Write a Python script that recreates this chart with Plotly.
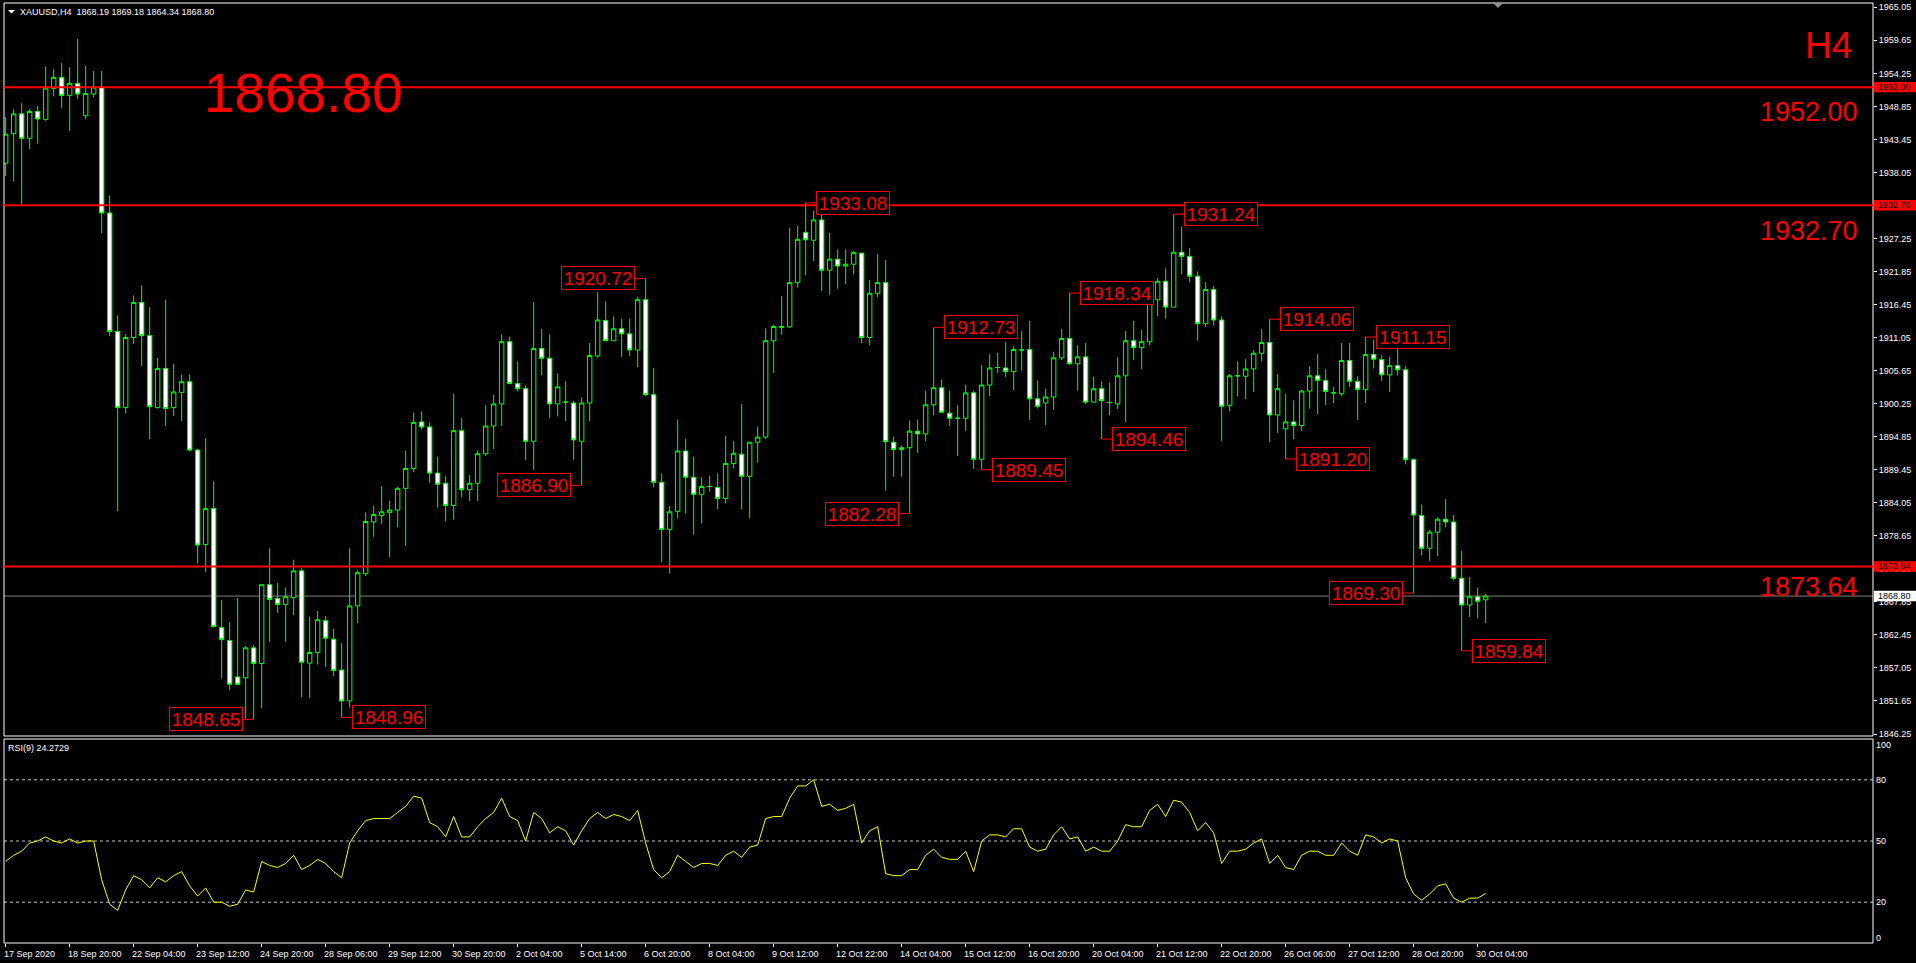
import plotly.graph_objects as go

# ---------------- data ----------------
bar_open = [
    1939.56, 1944.39, 1947.63, 1943.63, 1948.01, 1946.73, 1951.78, 1953.59, 1950.65, 1952.61,
    1947.33, 1950.87, 1952.00, 1931.42, 1912.05, 1899.61, 1911.07, 1916.80, 1911.37, 1899.61,
    1906.01, 1899.61, 1902.10, 1903.83, 1892.67, 1877.22, 1883.10, 1863.64, 1861.54, 1855.58,
    1855.43, 1860.33, 1857.77, 1870.66, 1868.39, 1867.41, 1868.54, 1872.92, 1857.84, 1859.57,
    1864.77, 1861.76, 1856.71, 1851.66, 1867.19, 1872.47, 1880.91, 1881.97, 1882.49, 1882.87,
    1886.41, 1889.66, 1897.27, 1896.44, 1888.90, 1887.24, 1883.62, 1895.84, 1886.19, 1887.24,
    1892.07, 1896.59, 1900.21, 1910.39, 1903.53, 1902.70, 1894.10, 1909.26, 1907.67, 1900.21,
    1900.51, 1900.36, 1894.10, 1900.36, 1908.05, 1913.85, 1910.54, 1912.50, 1911.67, 1909.03,
    1917.25, 1901.72, 1887.39, 1879.70, 1882.65, 1892.52, 1888.22, 1885.43, 1886.72, 1886.56,
    1884.76, 1890.48, 1891.99, 1888.37, 1893.95, 1894.78, 1910.54, 1912.72, 1912.80, 1920.04,
    1928.25, 1926.97, 1930.29, 1922.07, 1923.88, 1922.75, 1923.05, 1924.86, 1911.07, 1918.30,
    1920.04, 1893.95, 1892.75, 1893.05, 1895.76, 1895.31, 1900.06, 1902.85, 1898.70, 1897.87,
    1897.87, 1902.02, 1891.16, 1903.30, 1906.17, 1906.09, 1905.49, 1909.03, 1909.11, 1901.04,
    1900.36, 1901.34, 1907.75, 1910.91, 1906.77, 1907.90, 1900.51, 1902.70, 1900.44, 1900.21,
    1904.81, 1910.54, 1909.41, 1910.39, 1917.25, 1920.26, 1916.04, 1925.01, 1924.33, 1921.09,
    1913.33, 1918.91, 1913.93, 1899.98, 1904.81, 1904.73, 1905.94, 1908.50, 1910.24, 1898.40,
    1896.14, 1897.27, 1896.67, 1902.32, 1904.81, 1904.06, 1902.02, 1901.87, 1907.30, 1903.90,
    1902.55, 1908.27, 1907.45, 1904.96, 1906.47, 1905.79, 1891.09, 1881.97, 1876.61, 1879.25,
    1881.36, 1880.91, 1871.71, 1867.34, 1868.69, 1868.19,
]
bar_high = [
    1947.10, 1948.38, 1949.36, 1948.38, 1948.91, 1955.39, 1954.94, 1955.92, 1955.24, 1959.92,
    1955.47, 1954.64, 1954.64, 1934.29, 1914.68, 1911.67, 1917.93, 1919.58, 1916.04, 1907.75,
    1917.25, 1906.77, 1905.03, 1905.03, 1892.90, 1894.63, 1887.54, 1868.17, 1864.55, 1868.47,
    1860.63, 1860.78, 1870.70, 1876.61, 1870.96, 1870.20, 1874.73, 1873.37, 1865.38, 1866.36,
    1865.53, 1863.42, 1861.16, 1876.61, 1873.00, 1882.49, 1883.55, 1886.79, 1884.38, 1886.64,
    1892.60, 1898.78, 1899.00, 1897.19, 1891.62, 1888.45, 1901.87, 1897.95, 1888.60, 1892.60,
    1899.98, 1901.72, 1911.59, 1911.22, 1907.15, 1903.23, 1916.87, 1912.42, 1911.59, 1905.19,
    1903.90, 1900.74, 1901.27, 1910.16, 1918.46, 1916.94, 1914.53, 1914.16, 1914.16, 1917.70,
    1920.72, 1906.09, 1888.83, 1883.55, 1897.65, 1894.55, 1891.62, 1888.22, 1888.45, 1888.83,
    1895.01, 1894.10, 1900.21, 1894.00, 1896.51, 1912.57, 1913.18, 1917.85, 1929.01, 1929.31,
    1933.08, 1931.80, 1931.50, 1928.18, 1925.46, 1925.46, 1925.24, 1924.94, 1920.49, 1924.71,
    1923.73, 1894.86, 1893.42, 1897.50, 1897.65, 1902.40, 1912.73, 1904.21, 1902.40, 1899.98,
    1903.38, 1902.40, 1906.54, 1908.35, 1908.58, 1910.31, 1909.63, 1912.12, 1913.78, 1904.06,
    1902.70, 1908.73, 1912.42, 1918.34, 1909.78, 1910.16, 1904.66, 1903.90, 1903.75, 1907.82,
    1912.12, 1913.78, 1912.27, 1919.21, 1920.79, 1922.37, 1931.24, 1929.23, 1925.69, 1921.85,
    1920.11, 1919.51, 1914.53, 1905.11, 1907.15, 1907.52, 1909.03, 1912.42, 1914.06, 1905.11,
    1901.87, 1900.81, 1902.47, 1906.39, 1908.35, 1905.86, 1903.00, 1910.16, 1910.16, 1904.73,
    1911.15, 1910.69, 1908.13, 1907.90, 1910.46, 1906.39, 1891.31, 1883.77, 1879.63, 1881.66,
    1884.68, 1882.04, 1876.24, 1871.87, 1870.20, 1869.18,
]
bar_low = [
    1937.45, 1936.55, 1932.78, 1941.82, 1942.73, 1946.50, 1950.49, 1948.61, 1944.84, 1950.12,
    1946.80, 1950.34, 1928.10, 1911.29, 1882.64, 1898.63, 1910.01, 1906.39, 1894.48, 1899.46,
    1896.59, 1898.25, 1897.35, 1892.45, 1874.12, 1872.69, 1863.80, 1855.35, 1853.39, 1854.22,
    1848.80, 1848.65, 1850.45, 1861.31, 1866.06, 1861.31, 1865.68, 1852.26, 1852.11, 1857.61,
    1857.24, 1855.73, 1848.96, 1850.60, 1864.40, 1872.09, 1878.50, 1880.61, 1875.11, 1880.01,
    1876.99, 1889.05, 1895.99, 1887.32, 1883.25, 1880.99, 1881.29, 1884.91, 1884.30, 1884.30,
    1891.69, 1892.82, 1896.59, 1903.45, 1902.25, 1891.01, 1889.43, 1904.88, 1897.87, 1898.17,
    1897.35, 1891.09, 1886.90, 1897.35, 1907.75, 1910.50, 1910.50, 1907.90, 1908.05, 1906.24,
    1901.49, 1886.56, 1874.35, 1872.47, 1881.51, 1882.27, 1878.87, 1880.68, 1885.89, 1882.95,
    1883.93, 1889.66, 1882.95, 1881.51, 1890.63, 1894.48, 1905.26, 1911.52, 1912.65, 1919.21,
    1921.24, 1923.58, 1918.68, 1918.08, 1919.06, 1919.81, 1921.39, 1910.16, 1909.78, 1917.62,
    1886.04, 1888.30, 1888.30, 1882.28, 1892.22, 1894.10, 1898.40, 1898.70, 1896.59, 1891.69,
    1895.84, 1889.60, 1889.45, 1901.49, 1905.26, 1904.66, 1902.47, 1905.64, 1897.57, 1899.46,
    1896.74, 1899.23, 1907.37, 1906.62, 1902.40, 1900.21, 1900.45, 1894.46, 1898.40, 1899.38,
    1897.27, 1907.37, 1905.94, 1909.78, 1914.53, 1914.16, 1916.00, 1921.39, 1920.11, 1910.54,
    1912.80, 1913.03, 1894.18, 1899.00, 1901.42, 1900.96, 1902.17, 1907.15, 1893.95, 1895.46,
    1891.20, 1894.48, 1895.84, 1899.46, 1898.55, 1899.98, 1900.36, 1901.49, 1903.00, 1897.57,
    1900.36, 1906.01, 1903.98, 1902.17, 1904.88, 1890.33, 1869.30, 1875.48, 1874.58, 1875.33,
    1880.01, 1871.34, 1859.84, 1865.38, 1865.15, 1864.34,
]
bar_close = [
    1944.31, 1947.63, 1943.63, 1948.01, 1946.80, 1951.85, 1953.59, 1950.65, 1952.61, 1950.87,
    1950.95, 1952.00, 1931.42, 1912.05, 1899.61, 1911.07, 1916.80, 1911.37, 1899.76, 1906.01,
    1899.46, 1902.17, 1903.83, 1892.67, 1877.14, 1883.10, 1863.80, 1861.69, 1854.37, 1854.37,
    1860.33, 1857.77, 1870.66, 1868.24, 1867.41, 1868.69, 1872.92, 1857.99, 1859.57, 1864.93,
    1861.91, 1856.63, 1851.66, 1867.19, 1872.62, 1880.99, 1882.12, 1882.57, 1882.87, 1886.41,
    1889.66, 1897.19, 1896.44, 1888.90, 1887.09, 1883.62, 1895.84, 1886.19, 1887.24, 1892.07,
    1896.59, 1900.21, 1910.39, 1903.53, 1902.70, 1894.10, 1909.26, 1907.67, 1900.21, 1903.00,
    1900.51, 1894.33, 1900.36, 1908.13, 1913.93, 1910.54, 1912.50, 1911.67, 1909.03, 1917.25,
    1901.72, 1887.39, 1879.70, 1882.57, 1892.52, 1888.22, 1885.43, 1886.72, 1886.72, 1884.76,
    1890.48, 1892.14, 1888.37, 1893.95, 1894.78, 1910.54, 1912.87, 1912.87, 1920.04, 1927.12,
    1927.05, 1930.29, 1922.07, 1923.88, 1922.75, 1923.05, 1924.94, 1911.07, 1918.30, 1920.04,
    1894.03, 1892.75, 1893.05, 1895.76, 1895.31, 1900.06, 1902.85, 1898.85, 1897.87, 1897.87,
    1902.02, 1891.16, 1903.30, 1906.09, 1906.17, 1905.49, 1909.11, 1909.03, 1901.04, 1899.83,
    1901.34, 1907.75, 1910.91, 1906.77, 1907.90, 1900.51, 1902.70, 1900.74, 1900.44, 1904.81,
    1910.54, 1909.41, 1910.39, 1917.25, 1920.26, 1916.04, 1925.01, 1924.33, 1921.09, 1913.33,
    1918.91, 1913.93, 1899.83, 1904.81, 1904.81, 1905.94, 1908.50, 1910.24, 1898.40, 1902.70,
    1897.27, 1896.67, 1902.32, 1904.81, 1904.06, 1902.25, 1902.02, 1907.30, 1903.90, 1902.55,
    1908.27, 1907.52, 1904.96, 1906.47, 1905.79, 1891.09, 1882.04, 1876.61, 1879.25, 1881.36,
    1880.91, 1871.71, 1867.34, 1868.69, 1867.94, 1868.80,
]
rsi_values = [
    40, 43, 45, 49, 50, 52, 50, 49, 51, 49,
    50, 50, 31, 19, 16, 26, 33, 31, 27, 32,
    30, 33, 35, 28, 23, 27, 20, 20, 18, 19,
    26, 25, 40, 38, 37, 39, 43, 36, 38, 41,
    39, 35, 32, 49, 55, 60, 61, 61, 61, 64,
    67, 72, 71, 59, 57, 52, 62, 52, 52, 57,
    61, 64, 71, 62, 60, 50, 64, 61, 54, 57,
    55, 48, 55, 61, 64, 61, 63, 62, 60, 65,
    49, 36, 32, 35, 43, 40, 37, 39, 39, 38,
    43, 45, 42, 47, 48, 61, 62, 62, 71, 77,
    77, 80, 67, 68, 65, 66, 68, 49, 55, 57,
    34, 33, 33, 36, 36, 43, 46, 42, 41, 41,
    45, 35, 50, 53, 53, 52, 56, 56, 47, 45,
    46, 53, 57, 51, 52, 45, 47, 45, 45, 50,
    58, 57, 57, 65, 68, 62, 70, 69, 64, 55,
    59, 54, 39, 45, 45, 46, 49, 51, 39, 43,
    37, 36, 43, 45, 45, 43, 43, 49, 45, 43,
    53, 52, 49, 51, 50, 32, 24, 21, 24, 28,
    29, 22, 20, 22, 22, 24.27,
]
tick_labels = [
    "17 Sep 2020", "18 Sep 20:00", "22 Sep 04:00", "23 Sep 12:00", "24 Sep 20:00",
    "28 Sep 06:00", "29 Sep 12:00", "30 Sep 20:00", "2 Oct 04:00", "5 Oct 14:00",
    "6 Oct 20:00", "8 Oct 04:00", "9 Oct 12:00", "12 Oct 22:00", "14 Oct 04:00",
    "15 Oct 12:00", "16 Oct 20:00", "20 Oct 04:00", "21 Oct 12:00", "22 Oct 20:00",
    "26 Oct 06:00", "27 Oct 12:00", "28 Oct 20:00", "30 Oct 04:00",
]
bars_per_tick = 8
level_prices = [1952.00, 1932.70, 1873.64]
current_price = 1868.80
header_symbol = "XAUUSD,H4"
header_ohlc = [1868.19, 1869.18, 1864.34, 1868.80]
rsi_period = 9
rsi_last = 24.2729
swing_bars = [31, 42, 72, 80, 100, 113, 116, 122, 133, 137, 146, 158, 160, 170, 176, 182]
swing_prices = [1848.65, 1848.96, 1886.90, 1920.72, 1933.08, 1882.28, 1912.73, 1889.45,
                1918.34, 1894.46, 1931.24, 1914.06, 1891.20, 1911.15, 1869.30, 1859.84]
swing_sides = ["left", "right", "left", "left", "right", "left", "right", "right",
               "right", "right", "right", "right", "right", "right", "left", "right"]
rsi_levels = [20, 50, 80]
rsi_axis_labels = [100, 80, 50, 20, 0]
price_tick0 = 1846.25
price_tick_step = 5.40

# ---------------- layout constants (pixels) ----------------
FIG_W, FIG_H = 1916, 963
PL, PR, PT, PB = 4, 1873, 3, 943
MAIN_BOT, RSI_TOP = 736, 739
BAR0_PX, BAR_PX = 5.67, 8.0
PRICE_TOP = 1965.753
PX_PER_UNIT = 6.117
FONT = "Liberation Sans, Arial, sans-serif"
RED = "#ff0000"
LIME = "#00ff00"


def fx(px):
    return (px - PL) / (PR - PL)


def fy(py):
    return (PB - py) / (PB - PT)


price_bottom = PRICE_TOP - (MAIN_BOT - PT) / PX_PER_UNIT
x_range = [(PL - BAR0_PX) / BAR_PX, (PR - BAR0_PX) / BAR_PX]
idx = list(range(len(bar_open)))
tick_vals = [k * bars_per_tick for k in range(len(tick_labels))]

fig = go.Figure()
fig.add_trace(go.Candlestick(
    x=idx, open=bar_open, high=bar_high, low=bar_low, close=bar_close,
    increasing=dict(line=dict(color=LIME, width=1), fillcolor="#000000"),
    decreasing=dict(line=dict(color=LIME, width=1), fillcolor="#ffffff"),
    whiskerwidth=0, xaxis="x", yaxis="y", hoverinfo="skip", showlegend=False,
))
fig.add_trace(go.Scatter(
    x=idx, y=rsi_values, mode="lines", line=dict(color="#ffff00", width=1),
    xaxis="x", yaxis="y2", hoverinfo="skip", showlegend=False,
))

shapes = []
# panel frames
shapes.append(dict(type="rect", xref="paper", yref="paper", x0=0, x1=1, y0=fy(MAIN_BOT), y1=1,
                   line=dict(color="#ffffff", width=1), layer="above"))
shapes.append(dict(type="rect", xref="paper", yref="paper", x0=0, x1=1, y0=0, y1=fy(RSI_TOP),
                   line=dict(color="#ffffff", width=1), layer="above"))
# horizontal levels
for p in level_prices:
    shapes.append(dict(type="line", xref="paper", yref="y", x0=0, x1=1, y0=p, y1=p,
                       line=dict(color=RED, width=2), layer="above"))
shapes.append(dict(type="line", xref="paper", yref="y", x0=0, x1=1, y0=current_price, y1=current_price,
                   line=dict(color="#808080", width=1), layer="below"))
# RSI levels
for lv in rsi_levels:
    shapes.append(dict(type="line", xref="paper", yref="y2", x0=0, x1=1, y0=lv, y1=lv,
                       line=dict(color="#c8c8c8", width=1, dash="3px,3px"), layer="below"))
# swing label connectors
conn = 10.5 / BAR_PX
for b, p, s in zip(swing_bars, swing_prices, swing_sides):
    x1 = b + conn if s == "right" else b - conn
    shapes.append(dict(type="line", xref="x", yref="y", x0=b, x1=x1, y0=p, y1=p,
                       line=dict(color=RED, width=1), layer="above"))
# price tags on the axis
half = 5.2 / PX_PER_UNIT
for p in level_prices:
    shapes.append(dict(type="rect", xref="paper", yref="y", x0=fx(1874), x1=fx(1916),
                       y0=p - half, y1=p + half, fillcolor=RED, line=dict(width=0), layer="above"))
shapes.append(dict(type="rect", xref="paper", yref="y", x0=fx(1874), x1=fx(1916),
                   y0=current_price - half, y1=current_price + half, fillcolor="#ffffff",
                   line=dict(width=0), layer="above"))
# small triangles
shapes.append(dict(type="path", xref="paper", yref="paper",
                   path=f"M {fx(8)} {fy(10)} L {fx(15)} {fy(10)} L {fx(11.5)} {fy(13.5)} Z",
                   fillcolor="#ffffff", line=dict(width=0), layer="above"))
shapes.append(dict(type="path", xref="paper", yref="paper",
                   path=f"M {fx(1493)} {fy(3)} L {fx(1503)} {fy(3)} L {fx(1498)} {fy(8)} Z",
                   fillcolor="#909090", line=dict(width=0), layer="above"))

ann = []


def text(x, y, s, size, color, xanchor="left", yanchor="middle", xref="paper", yref="paper", **kw):
    d = dict(x=x, y=y, xref=xref, yref=yref, text=s, showarrow=False, xanchor=xanchor,
             yanchor=yanchor, font=dict(family=FONT, size=size, color=color),
             borderpad=0, borderwidth=0)
    d.update(kw)
    ann.append(d)


# header
text(fx(20), fy(12), header_symbol + "  " + " ".join(f"{v:.2f}" for v in header_ohlc), 9, "#ffffff")
text(fx(8), fy(748), f"RSI({rsi_period}) {rsi_last:.4f}", 9, "#ffffff")
# big texts
text(fx(204), fy(93), f"{current_price:.2f}", 55, RED)
text(fx(1805), fy(45), "H4", 37, RED)
level_dy = [24.5, 26.0, 20.7]
for p, dy in zip(level_prices, level_dy):
    text(fx(1857.5), p, f"{p:.2f}", 27, RED, xanchor="right", yref="y", yshift=-dy)
# swing labels
for b, p, s in zip(swing_bars, swing_prices, swing_sides):
    ann.append(dict(x=b, y=p, xref="x", yref="y", text=f"{p:.2f}", showarrow=False,
                    xanchor="left" if s == "right" else "right", yanchor="middle",
                    xshift=10.5 if s == "right" else -10.5,
                    font=dict(family=FONT, size=19, color=RED), bgcolor="#000000",
                    bordercolor=RED, borderwidth=1, borderpad=1, width=70, height=20))
# axis tags text
for p in level_prices:
    text(fx(1878), p, f"{p:.2f}", 9, "#000000", yref="y")
text(fx(1878), current_price, f"{current_price:.2f}", 9, "#000000", yref="y")
# RSI axis labels
for v in rsi_axis_labels:
    shift = -6 if v == 100 else (5 if v == 0 else 0)
    text(fx(1876), v, str(v), 9, "#ffffff", yref="y2", yshift=shift)
# x tick labels
for tv, tl in zip(tick_vals, tick_labels):
    text(tv, fy(953.5), tl, 9, "#ffffff", xref="x", xshift=-2)

fig.update_layout(
    template="none",
    width=FIG_W, height=FIG_H,
    margin=dict(l=PL, r=FIG_W - PR, t=PT, b=FIG_H - PB, pad=0),
    paper_bgcolor="#000000", plot_bgcolor="#000000",
    showlegend=False, hovermode=False,
    boxgap=0.45, boxgroupgap=0,
    xaxis=dict(domain=[0, 1], anchor="y2", range=x_range, showgrid=False, zeroline=False,
               showline=False, tickmode="array", tickvals=tick_vals, ticks="outside", ticklen=3,
               tickwidth=1, tickcolor="#ffffff", showticklabels=False,
               rangeslider=dict(visible=False), automargin=False, fixedrange=True),
    yaxis=dict(domain=[fy(MAIN_BOT), 1], anchor="x", side="right",
               range=[price_bottom, PRICE_TOP], tickmode="linear", tick0=price_tick0,
               dtick=price_tick_step, tickformat=".2f", ticks="outside", ticklen=3, tickwidth=1,
               tickcolor="#ffffff", tickfont=dict(family=FONT, size=9, color="#ffffff"),
               showgrid=False, zeroline=False, showline=False, automargin=False, fixedrange=True),
    yaxis2=dict(domain=[0, fy(RSI_TOP)], anchor="x", side="right", range=[0, 100],
                showgrid=False, zeroline=False, showline=False, showticklabels=False, ticks="",
                automargin=False, fixedrange=True),
    shapes=shapes, annotations=ann,
)

fig.write_html("out.html", config={"displayModeBar": False},
               post_script="document.body.style.margin='0';document.body.style.overflow='hidden';")
